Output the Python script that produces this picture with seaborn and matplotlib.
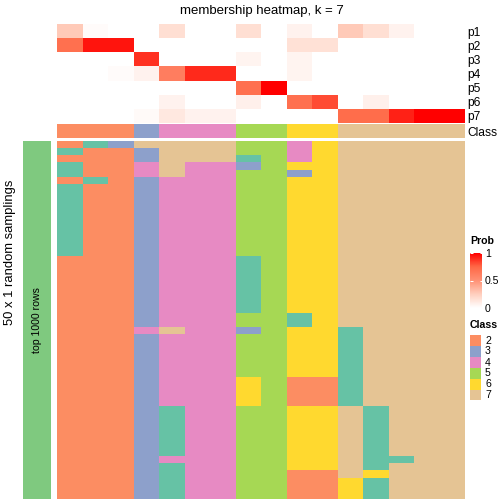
import numpy as np
import pandas as pd
import matplotlib
matplotlib.use("Agg")
import matplotlib.pyplot as plt
import seaborn as sns
from matplotlib.colors import ListedColormap, LinearSegmentedColormap
from matplotlib.patches import Rectangle

plt.rcParams["font.family"] = ["Liberation Sans", "DejaVu Sans"]

# membership probabilities per consensus column (16 columns)
prob_rows = ["p1", "p2", "p3", "p4", "p5", "p6", "p7"]
p1 = [0.27, 0.02, 0, 0, 0.17, 0, 0, 0.17, 0, 0.07, 0, 0.27, 0.17, 0.07, 0, 0]
p2 = [0.70, 0.95, 0.95, 0, 0, 0, 0, 0, 0, 0.16, 0.16, 0, 0, 0, 0, 0]
p3 = [0, 0, 0, 0.88, 0, 0, 0, 0.06, 0, 0.06, 0, 0, 0, 0, 0, 0]
p4 = [0, 0, 0.02, 0.07, 0.62, 0.90, 0.90, 0, 0, 0.06, 0, 0, 0, 0, 0, 0]
p5 = [0, 0, 0, 0, 0, 0, 0, 0.70, 1.0, 0, 0, 0, 0, 0, 0, 0]
p6 = [0, 0, 0, 0, 0.07, 0, 0, 0.08, 0, 0.70, 0.82, 0, 0.08, 0, 0, 0]
p7 = [0, 0, 0, 0.03, 0.12, 0.07, 0.07, 0, 0, 0, 0, 0.72, 0.72, 0.92, 1.0, 1.0]

# consensus class of each column
column_class = [2, 2, 2, 3, 4, 4, 4, 5, 5, 6, 6, 7, 7, 7, 7, 7]

# class labels of the 50 random samplings, per column, as (class, number of rows) runs
sampling_runs = [
    [(2, 1), (1, 1), (2, 1), (1, 2), (2, 1), (1, 10), (2, 34)],
    [(1, 1), (2, 4), (1, 1), (2, 44)],
    [(3, 1), (2, 49)],
    [(7, 1), (3, 2), (4, 2), (3, 21), (4, 1), (3, 23)],
    [(7, 5), (4, 21), (7, 1), (4, 10), (1, 7), (4, 1), (1, 5)],
    [(7, 3), (4, 47)],
    [(7, 3), (4, 47)],
    [(5, 2), (1, 1), (3, 1), (5, 12), (1, 8), (5, 2), (3, 1), (5, 6), (6, 4), (5, 13)],
    [(5, 50)],
    [(4, 3), (6, 1), (3, 1), (6, 19), (1, 2), (6, 7), (2, 4), (6, 9), (2, 4)],
    [(6, 33), (2, 4), (6, 9), (2, 4)],
    [(7, 26), (1, 11), (7, 10), (6, 3)],
    [(7, 37), (1, 9), (6, 1), (1, 3)],
    [(7, 44), (1, 1), (7, 5)],
    [(7, 50)],
    [(7, 50)],
]

class_colors = ["#66C2A5", "#FC8D62", "#8DA0CB", "#E78AC3", "#A6D854", "#FFD92F", "#E5C494"]
legend_classes = [2, 3, 4, 5, 6, 7]

# build matrices
prob_df = pd.DataFrame([p1, p2, p3, p4, p5, p6, p7], index=prob_rows)
membership = np.column_stack([
    np.concatenate([[c] * n for c, n in runs]) for runs in sampling_runs
])

prob_cmap = LinearSegmentedColormap.from_list(
    "prob",
    [(0, "#FFFFFF"), (0.25, "#FFCFBE"), (0.5, "#FF9175"), (0.75, "#FF6846"), (1, "#FF0000")],
)
class_cmap = ListedColormap(class_colors)

W = H = 504
fig = plt.figure(figsize=(7, 7), dpi=72)


def px_axes(x0, y0, x1, y1):
    return fig.add_axes([x0 / W, 1 - y1 / H, (x1 - x0) / W, (y1 - y0) / H])


# top probability heatmap
ax_p = px_axes(57, 24, 465, 123)
sns.heatmap(prob_df, ax=ax_p, cmap=prob_cmap, vmin=0, vmax=1, cbar=False,
            xticklabels=False, yticklabels=True)
ax_p.yaxis.tick_right()
ax_p.tick_params(axis="y", length=0, pad=2, labelsize=12)
plt.setp(ax_p.get_yticklabels(), rotation=0)
ax_p.set_ylabel("")

# class annotation row
ax_c = px_axes(57, 124, 465, 138)
sns.heatmap(np.array([column_class]), ax=ax_c, cmap=class_cmap, vmin=0.5, vmax=7.5,
            cbar=False, xticklabels=False, yticklabels=["Class"])
ax_c.yaxis.tick_right()
ax_c.tick_params(axis="y", length=0, pad=2, labelsize=12)
plt.setp(ax_c.get_yticklabels(), rotation=0)

# main membership heatmap
ax_m = px_axes(57, 141, 465, 499)
sns.heatmap(membership, ax=ax_m, cmap=class_cmap, vmin=0.5, vmax=7.5,
            cbar=False, xticklabels=False, yticklabels=False)

# left split annotation
ax_l = px_axes(23, 141, 50.7, 499)
sns.heatmap(np.array([[1]]), ax=ax_l, cmap=ListedColormap(["#7FC97F"]),
            cbar=False, xticklabels=False, yticklabels=False)
ax_l.text(0.5, 0.5, "top 1000 rows", rotation=90, ha="center", va="center",
          fontsize=10.5, transform=ax_l.transAxes)

fig.text(10 / W, 1 - 252 / H, "50 x 1 random samplings", rotation=90,
         ha="center", va="center", fontsize=13)
fig.text(262 / W, 1 - 11 / H, "membership heatmap, k = 7",
         ha="center", va="center", fontsize=13.3)

# Prob colour bar
fig.text(470 / W, 1 - 241 / H, "Prob", ha="left", va="center",
         fontsize=10.5, fontweight="bold")
cax = px_axes(470, 253, 482, 308)
sm = plt.cm.ScalarMappable(cmap=prob_cmap, norm=plt.Normalize(0, 1))
cb = fig.colorbar(sm, cax=cax, ticks=[0, 0.5, 1])
cb.outline.set_visible(False)
cb.set_ticklabels(["0", "0.5", "1"])
cax.tick_params(direction="in", length=2.5, color="white", width=1,
                left=True, right=True, labelsize=10.5, pad=3)

# Class legend
ax_leg = px_axes(462, 318, 504, 404)
ax_leg.set_xlim(462, 504)
ax_leg.set_ylim(404, 318)
ax_leg.axis("off")
ax_leg.text(470, 325, "Class", ha="left", va="center", fontsize=10.5, fontweight="bold")
for i, cl in enumerate(legend_classes):
    y0 = 335 + 11 * i
    ax_leg.add_patch(Rectangle((470, y0), 11, 10.5, facecolor=class_colors[cl - 1],
                               edgecolor="none"))
    ax_leg.text(485, y0 + 5.5, str(cl), ha="left", va="center", fontsize=10.5)

fig.savefig("out.png", dpi=72)
